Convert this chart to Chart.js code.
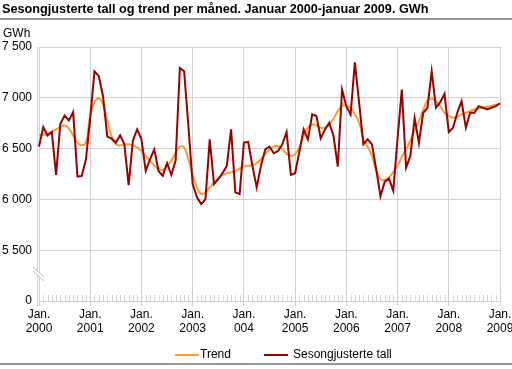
<!DOCTYPE html>
<html>
<head>
<meta charset="utf-8">
<script src="https://cdn.jsdelivr.net/npm/chart.js@4.4.0/dist/chart.umd.min.js"></script>
<style>
  body { margin: 0; background: #fff; }
  canvas { display: block; }
</style>
</head>
<body>
<canvas id="myChart" width="512" height="369"></canvas>
<script>
// tick labels under each January (the "004" is as printed in the original)
const yearTicks = ['2000', '2001', '2002', '2003', '004', '2005', '2006', '2007', '2008', '2009'];
const monthNames = ['jan', 'feb', 'mar', 'apr', 'mai', 'jun', 'jul', 'aug', 'sep', 'okt', 'nov', 'des'];

// GWh, January 2000 - January 2009
const sesongjustert = [
    6520, 6712, 6630, 6663, 6240, 6745, 6826, 6777, 6860, 6226, 6230, 6395,
    6800, 7260, 7215, 7016, 6618, 6598, 6559, 6630, 6542, 6140, 6581, 6689,
    6591, 6280, 6395, 6493, 6280, 6232, 6356, 6242, 6379, 7294, 7261, 6722,
    6150, 6020, 5954, 6003, 6591, 6150, 6199, 6258, 6330, 6689, 6069, 6052,
    6559, 6565, 6330, 6118, 6330, 6493, 6520, 6454, 6477, 6542, 6663, 6242,
    6258, 6470, 6689, 6591, 6836, 6820, 6601, 6689, 6754, 6624, 6323, 7081,
    6915, 6836, 7349, 6950, 6542, 6591, 6542, 6297, 6030, 6175, 6205, 6085,
    6600, 7081, 6314, 6428, 6800, 6555, 6850, 6900, 7261, 6902, 6957, 7039,
    6663, 6706, 6853, 6967, 6706, 6853, 6853, 6918, 6902, 6885, 6902, 6918,
    6944
];
const trend = [
    6630, 6636, 6643, 6669, 6689, 6712, 6729, 6696, 6630, 6559, 6532, 6559,
    6830, 6955, 6995, 6935, 6771, 6624, 6542, 6532, 6542, 6542, 6532, 6510,
    6477, 6428, 6379, 6336, 6303, 6290, 6335, 6379, 6460, 6520, 6510, 6395,
    6242, 6118, 6052, 6069, 6118, 6167, 6206, 6239, 6258, 6265, 6280, 6303,
    6323, 6330, 6336, 6356, 6395, 6444, 6493, 6520, 6526, 6493, 6451, 6428,
    6444, 6510, 6624, 6706, 6738, 6729, 6706, 6706, 6738, 6794, 6869, 6918,
    6925, 6902, 6836, 6754, 6591, 6520, 6428, 6280, 6200, 6193, 6216, 6270,
    6330, 6420, 6490, 6580, 6680, 6770, 6880, 6976, 6990, 6967, 6918, 6853,
    6820, 6804, 6813, 6836, 6853, 6869, 6885, 6895, 6902, 6912, 6921, 6931,
    6944
];

const months = [];
for (let i = 0; i < sesongjustert.length; i++) {
    months.push(monthNames[i % 12] + ' ' + (2000 + Math.floor(i / 12)));
}

const font = "'Liberation Sans', Arial, sans-serif";
const gridColor = '#d0d0d0';
const orange = '#ff9933';
const darkRed = '#990000';

function fmt(v) {
    return String(v).replace(/\B(?=(\d{3})+(?!\d))/g, ' ');
}

const decorations = {
    id: 'decorations',
    beforeDatasetsDraw(chart) {
        const ctx = chart.ctx;
        const area = chart.chartArea;
        const x = chart.scales.x;
        ctx.save();
        ctx.strokeStyle = '#d8d8d8';
        ctx.lineWidth = 1;
        // small month ticks along the bottom
        for (let i = 0; i < months.length; i++) {
            if (i % 12 === 0) continue;
            const px = Math.round(x.getPixelForValue(i)) + 0.5;
            ctx.beginPath();
            ctx.moveTo(px, area.bottom);
            ctx.lineTo(px, area.bottom - 6);
            ctx.stroke();
        }
        // second axis line
        ctx.strokeStyle = gridColor;
        ctx.beginPath();
        ctx.moveTo(area.left - 1.5, area.top);
        ctx.lineTo(area.left - 1.5, area.bottom + 5);
        ctx.stroke();
        ctx.restore();
    },
    afterDraw(chart) {
        const ctx = chart.ctx;
        const w = chart.width;
        ctx.save();
        // title and rules
        ctx.fillStyle = '#000';
        ctx.font = 'bold 12.7px ' + font;
        ctx.textBaseline = 'alphabetic';
        ctx.textAlign = 'left';
        ctx.fillText('Sesongjusterte tall og trend per måned. Januar 2000-januar 2009. GWh', 2, 13);
        ctx.fillStyle = '#999';
        ctx.fillRect(0, 18, w, 2);
        ctx.fillRect(0, 363, w, 2);
        ctx.fillStyle = '#000';
        ctx.font = '12px ' + font;
        ctx.textBaseline = 'middle';
        ctx.fillText('GWh', 3, 34);

        // axis break
        ctx.fillStyle = '#fff';
        ctx.beginPath();
        ctx.moveTo(33, 267); ctx.lineTo(44, 277); ctx.lineTo(44, 281); ctx.lineTo(33, 271);
        ctx.closePath();
        ctx.fill();
        ctx.strokeStyle = '#bbb';
        ctx.lineWidth = 1;
        ctx.beginPath();
        ctx.moveTo(33, 267); ctx.lineTo(44, 277);
        ctx.moveTo(33, 271); ctx.lineTo(44, 281);
        ctx.stroke();

        // legend
        ctx.lineWidth = 2;
        ctx.strokeStyle = orange;
        ctx.beginPath(); ctx.moveTo(175, 355); ctx.lineTo(199, 355); ctx.stroke();
        ctx.strokeStyle = darkRed;
        ctx.beginPath(); ctx.moveTo(264, 355); ctx.lineTo(288, 355); ctx.stroke();
        ctx.fillStyle = '#000';
        ctx.fillText('Trend', 200, 355);
        ctx.fillText('Sesongjusterte tall', 293, 355);
        ctx.restore();
    }
};

new Chart(document.getElementById('myChart'), {
    type: 'line',
    data: {
        labels: months,
        datasets: [{
            label: 'Sesongjusterte tall',
            data: sesongjustert,
            borderColor: darkRed,
            borderWidth: 2,
            tension: 0,
            pointRadius: 0
        },
        {
            label: 'Trend',
            data: trend,
            borderColor: orange,
            borderWidth: 2,
            tension: 0.4,
            pointRadius: 0
        }]
    },
    options: {
        responsive: false,
        animation: false,
        layout: { padding: { top: 47, right: 12, left: 0, bottom: 0 } },
        plugins: {
            legend: { display: false },
            tooltip: { enabled: false }
        },
        scales: {
            x: {
                grid: {
                    color: c => c.index % 12 === 0 ? gridColor : 'rgba(0,0,0,0)',
                    tickColor: c => c.index % 12 === 0 ? gridColor : 'rgba(0,0,0,0)',
                    tickLength: 5
                },
                border: { display: false },
                ticks: {
                    autoSkip: false,
                    maxRotation: 0,
                    minRotation: 0,
                    padding: 2,
                    color: '#000',
                    font: { family: font, size: 12, lineHeight: 1.15 },
                    callback: (v, i) => i % 12 === 0 ? ['Jan.', yearTicks[i / 12]] : ''
                },
                afterFit: s => { s.height = 68; s.paddingLeft = 0; s.paddingRight = 0; }
            },
            y: {
                min: 5000,
                max: 7500,
                grid: { color: gridColor, drawTicks: false },
                border: { display: true, color: gridColor },
                ticks: {
                    stepSize: 500,
                    padding: 7,
                    color: '#000',
                    font: { family: font, size: 12 },
                    callback: v => v === 5000 ? '0' : fmt(v)
                },
                afterFit: s => { s.width = 39; }
            }
        }
    },
    plugins: [decorations]
});
</script>
</body>
</html>
